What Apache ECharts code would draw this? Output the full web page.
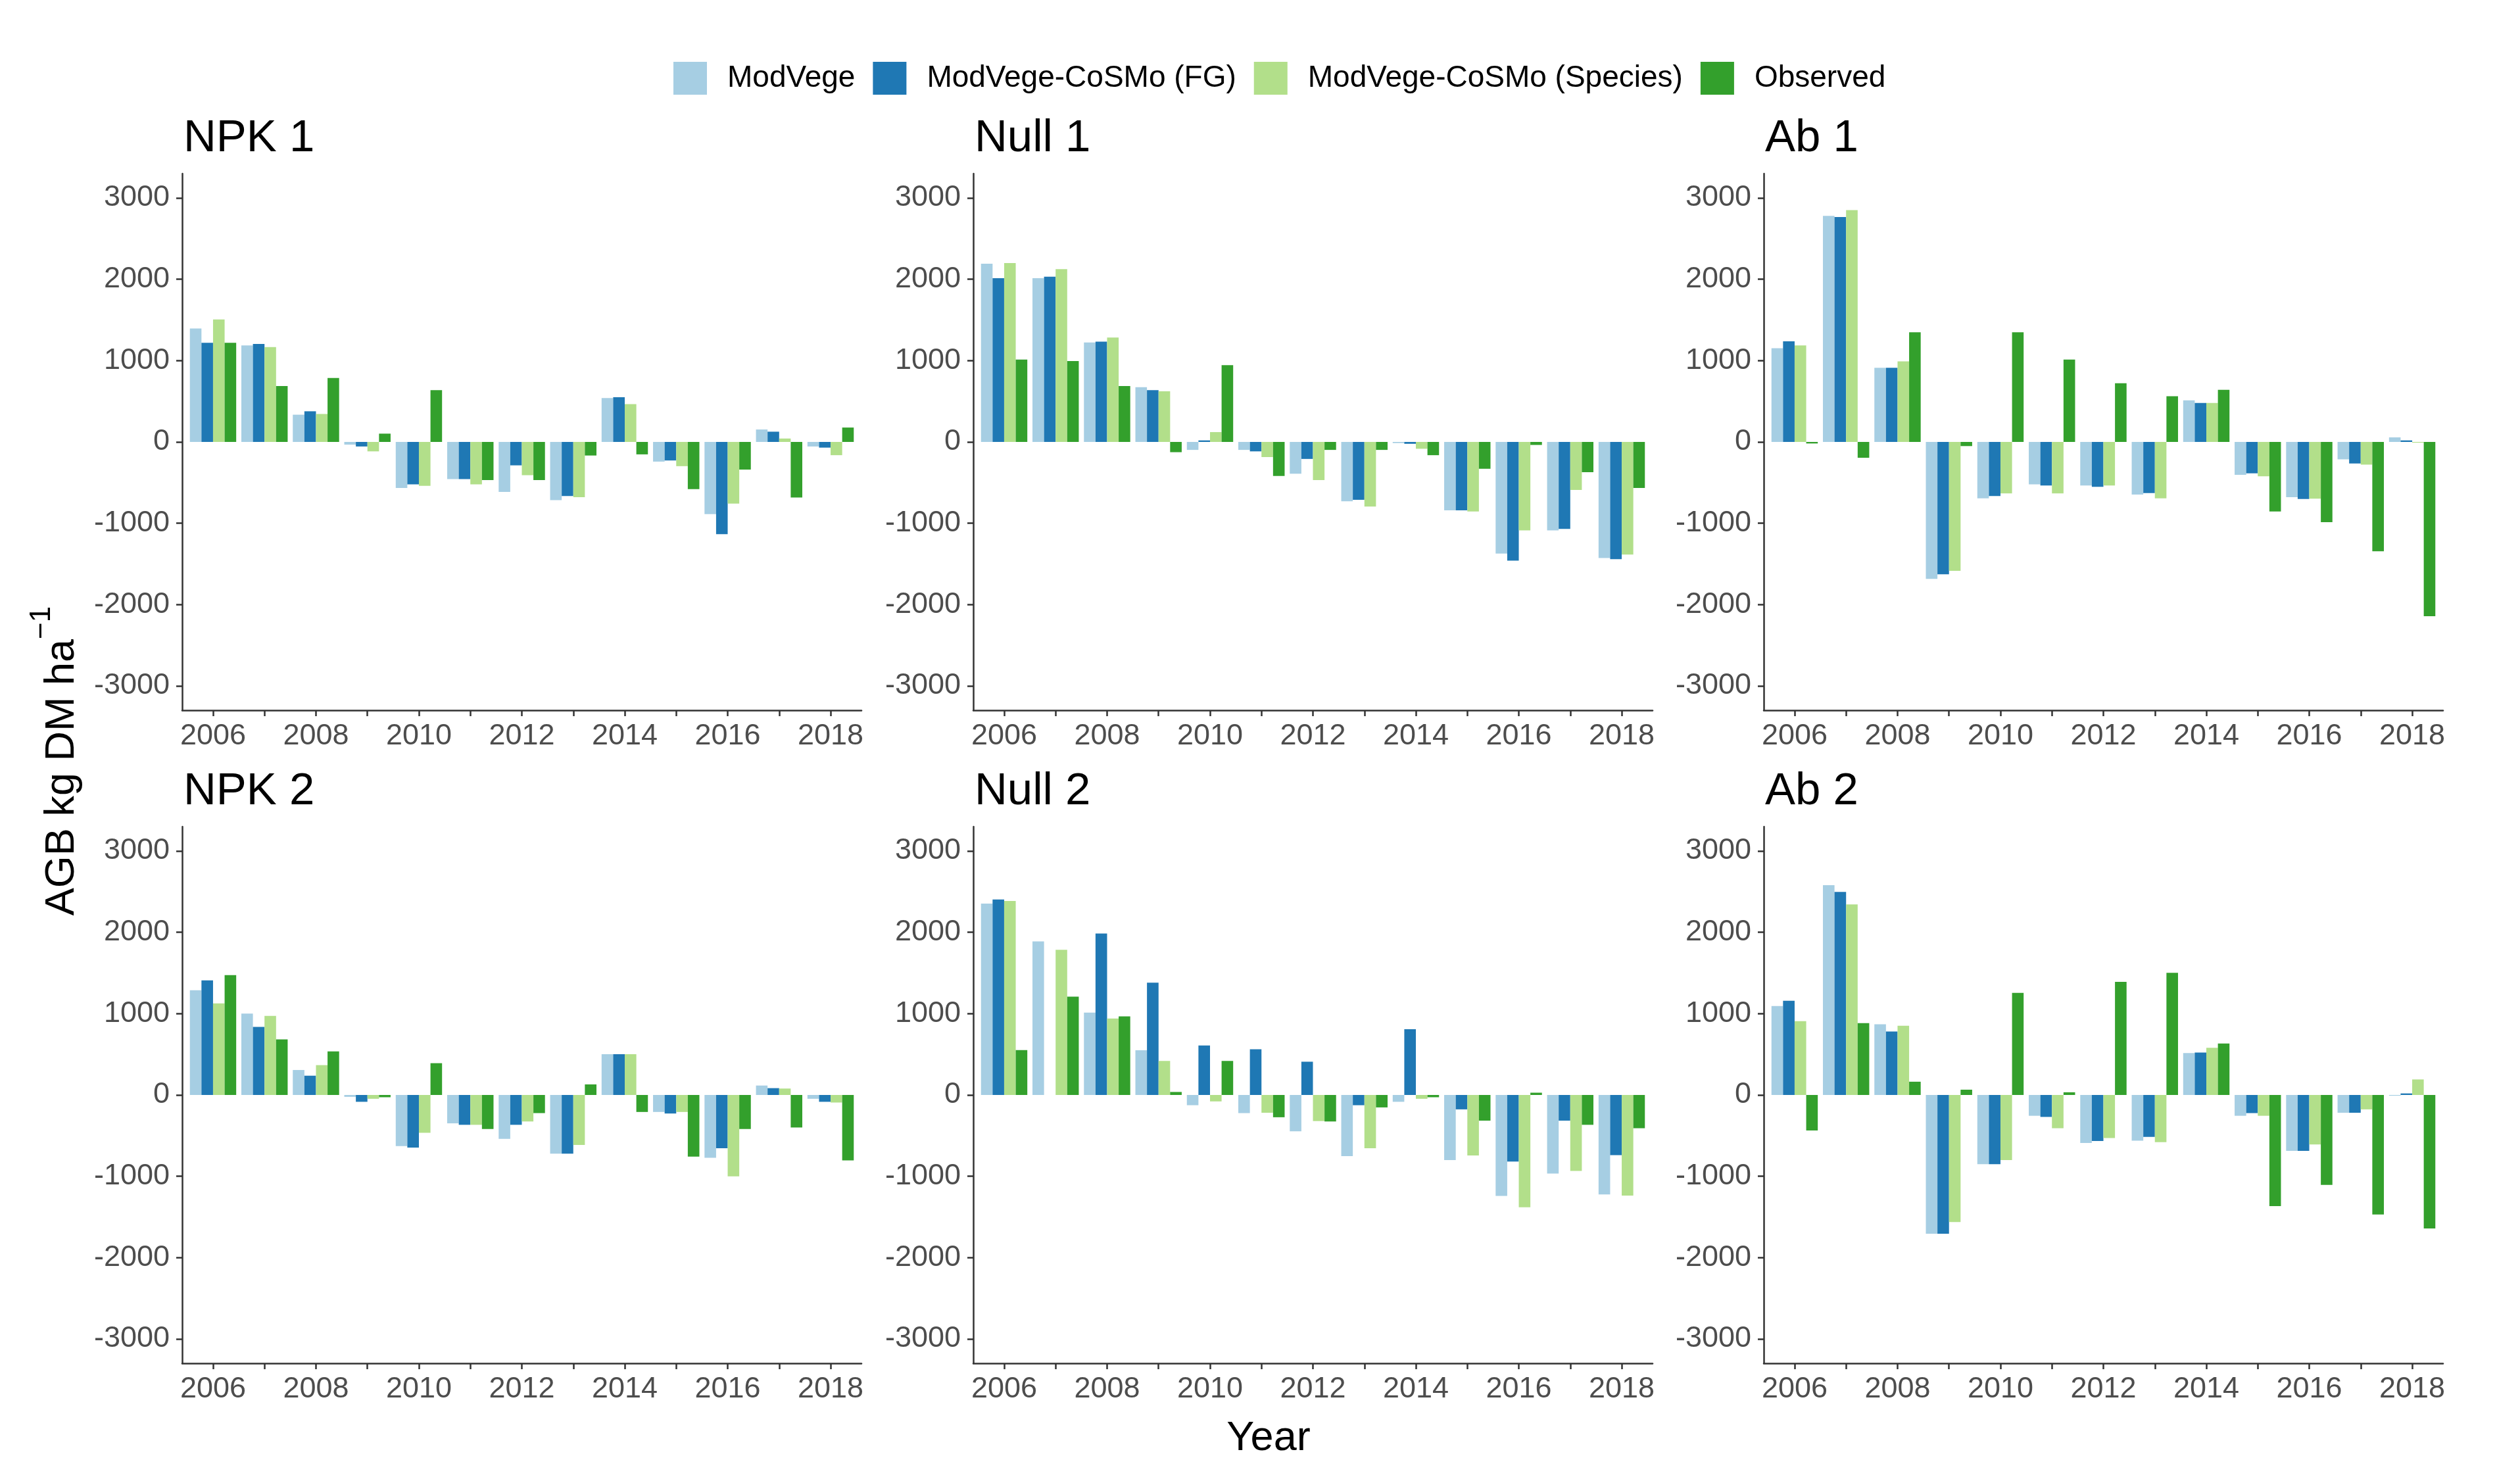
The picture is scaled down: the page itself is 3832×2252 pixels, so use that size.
<!DOCTYPE html>
<html>
<head>
<meta charset="utf-8">
<script src="https://cdn.jsdelivr.net/npm/echarts@6/dist/echarts.min.js"></script>
<style>
html,body{margin:0;padding:0;background:#fff;}
#chart{width:3832px;height:2252px;}
</style>
</head>
<body>
<div id="chart"></div>
<script>
const years = [2006,2007,2008,2009,2010,2011,2012,2013,2014,2015,2016,2017,2018];
const yearLabels = [2006,2008,2010,2012,2014,2016,2018];
const yTicks = [-3000,-2000,-1000,0,1000,2000,3000];
const seriesNames = ['ModVege','ModVege-CoSMo (FG)','ModVege-CoSMo (Species)','Observed'];
const panelTitles = ['NPK 1','Null 1','Ab 1','NPK 2','Null 2','Ab 2'];

// NPK 1
const npk1ModVege = [1395,1186,335,-33,-567,-456,-614,-716,540,-242,-888,153,-56];
const npk1FG      = [1219,1205,377,-56,-521,-456,-288,-665,549,-228,-1135,126,-70];
const npk1Species = [1507,1167,344,-116,-540,-521,-409,-679,465,-298,-758,42,-163];
const npk1Obs     = [1219,688,786,102,637,-470,-470,-167,-153,-581,-340,-684,177];
// Null 1
const null1ModVege = [2191,2014,1223,674,-98,-98,-391,-730,-14,-842,-1372,-1088,-1428];
const null1FG      = [2014,2033,1233,637,19,-116,-209,-712,-23,-842,-1460,-1070,-1442];
const null1Species = [2200,2126,1284,623,121,-186,-470,-795,-84,-856,-1088,-591,-1386];
const null1Obs     = [1014,995,688,-126,944,-419,-98,-98,-163,-330,-37,-372,-567];
// Ab 1
const ab1ModVege = [1153,2781,912,-1684,-693,-521,-535,-647,512,-405,-679,-214,56];
const ab1FG      = [1237,2767,912,-1628,-665,-535,-553,-628,479,-386,-702,-265,19];
const ab1Species = [1186,2851,991,-1586,-633,-633,-535,-693,479,-423,-698,-279,-9];
const ab1Obs     = [-19,-195,1349,-51,1349,1014,721,563,642,-856,-986,-1344,-2144];
// NPK 2
const npk2ModVege = [1288,1000,307,-23,-628,-349,-540,-721,502,-209,-772,116,-47];
const npk2FG      = [1409,837,237,-84,-647,-367,-367,-721,502,-228,-656,84,-84];
const npk2Species = [1126,972,367,-47,-465,-367,-326,-614,502,-209,-1000,79,-93];
const npk2Obs     = [1474,684,535,-28,391,-419,-223,130,-209,-758,-419,-400,-805];
// Null 2
const null2ModVege = [2353,1888,1014,549,-126,-223,-447,-753,-84,-800,-1242,-967,-1223];
const null2FG      = [2405,0,1986,1381,609,563,409,-126,809,-177,-819,-316,-740];
const null2Species = [2386,1786,940,419,-79,-219,-321,-656,-47,-744,-1381,-935,-1237];
const null2Obs     = [553,1209,967,37,419,-274,-326,-153,-28,-316,28,-367,-409];
// Ab 2
const ab2ModVege = [1093,2581,870,-1707,-851,-256,-591,-563,516,-256,-688,-219,-9];
const ab2FG      = [1158,2498,781,-1707,-851,-270,-567,-516,521,-223,-688,-219,19];
const ab2Species = [907,2344,851,-1563,-800,-409,-530,-581,581,-256,-609,-177,191];
const ab2Obs     = [-437,884,163,65,1256,33,1391,1502,633,-1367,-1107,-1470,-1642];

const panelData = [
  [npk1ModVege, npk1FG, npk1Species, npk1Obs],
  [null1ModVege, null1FG, null1Species, null1Obs],
  [ab1ModVege, ab1FG, ab1Species, ab1Obs],
  [npk2ModVege, npk2FG, npk2Species, npk2Obs],
  [null2ModVege, null2FG, null2Species, null2Obs],
  [ab2ModVege, ab2FG, ab2Species, ab2Obs]
];

const colors = ['#a6cee3','#1f78b4','#b2df8a','#33a02c'];
const FONT = '"Liberation Sans", Arial, Helvetica, sans-serif';
const colLeft = [277, 1480, 2682];
const rowTop = [264, 1257];
const gridW = 1033, gridH = 816;
const axisColor = '#333333';
const labelColor = '#4d4d4d';

const grids = [], xAxes = [], yAxes = [], series = [], titles = [];
for (let p = 0; p < 6; p++) {
  const c = p % 3, r = Math.floor(p / 3);
  grids.push({left: colLeft[c], top: rowTop[r], width: gridW, height: gridH, containLabel: false});
  titles.push({
    text: panelTitles[p], left: colLeft[c] + 2, top: rowTop[r] - 88, padding: 0,
    textStyle: {fontFamily: FONT, fontSize: 69, fontWeight: 'normal', color: '#000'}
  });
  xAxes.push({
    type: 'value', gridIndex: p, min: 2005.4, max: 2018.6,
    splitLine: {show: false},
    axisLine: {show: true, onZero: false, lineStyle: {color: axisColor, width: 2.5}},
    axisTick: {show: true, length: 9, lineStyle: {color: axisColor, width: 2.5}, customValues: years},
    axisLabel: {show: true, customValues: yearLabels, margin: 17, color: labelColor, fontSize: 45, fontFamily: FONT,
      formatter: v => String(v)}
  });
  yAxes.push({
    type: 'value', gridIndex: p, min: -3300, max: 3300,
    splitLine: {show: false},
    axisLine: {show: true, lineStyle: {color: axisColor, width: 2.5}},
    axisTick: {show: true, length: 9, lineStyle: {color: axisColor, width: 2.5}, customValues: yTicks},
    axisLabel: {show: true, customValues: yTicks, margin: 19, color: labelColor, fontSize: 45, fontFamily: FONT,
      formatter: v => String(v)}
  });
  for (let s = 0; s < 4; s++) {
    series.push({
      type: 'bar', name: seriesNames[s], xAxisIndex: p, yAxisIndex: p,
      data: years.map((y, i) => [y, panelData[p][s][i]]),
      barWidth: '22.5%', barGap: '0%',
      itemStyle: {color: colors[s]},
      animation: false
    });
  }
}

const chart = echarts.init(document.getElementById('chart'), null, {renderer: 'canvas'});
chart.setOption({
  backgroundColor: '#ffffff',
  animation: false,
  title: titles,
  legend: {
    data: seriesNames.map(n => ({name: n, icon: 'rect'})),
    left: 1024, top: 94, orient: 'horizontal',
    itemWidth: 51, itemHeight: 50, itemGap: 27, padding: 0,
    textStyle: {fontFamily: FONT, fontSize: 46, color: '#000', padding: [0, 0, 0, 26]}
  },
  grid: grids,
  xAxis: xAxes,
  yAxis: yAxes,
  series: series,
  graphic: [
    {
      type: 'text', x: 1929, y: 2188,
      style: {text: 'Year', fontFamily: FONT, fontSize: 63, fill: '#000', textAlign: 'center', textVerticalAlign: 'middle'}
    },
    {
      type: 'text', x: 84, y: 1157, rotation: Math.PI / 2,
      style: {
        text: '{a|AGB kg DM ha}{s|\u22121}',
        textAlign: 'center', textVerticalAlign: 'middle',
        rich: {
          a: {fontFamily: FONT, fontSize: 63, fill: '#000', lineHeight: 84, verticalAlign: 'bottom'},
          s: {fontFamily: FONT, fontSize: 44, fill: '#000', lineHeight: 84, verticalAlign: 'top'}
        }
      }
    }
  ]
});
</script>
</body>
</html>
